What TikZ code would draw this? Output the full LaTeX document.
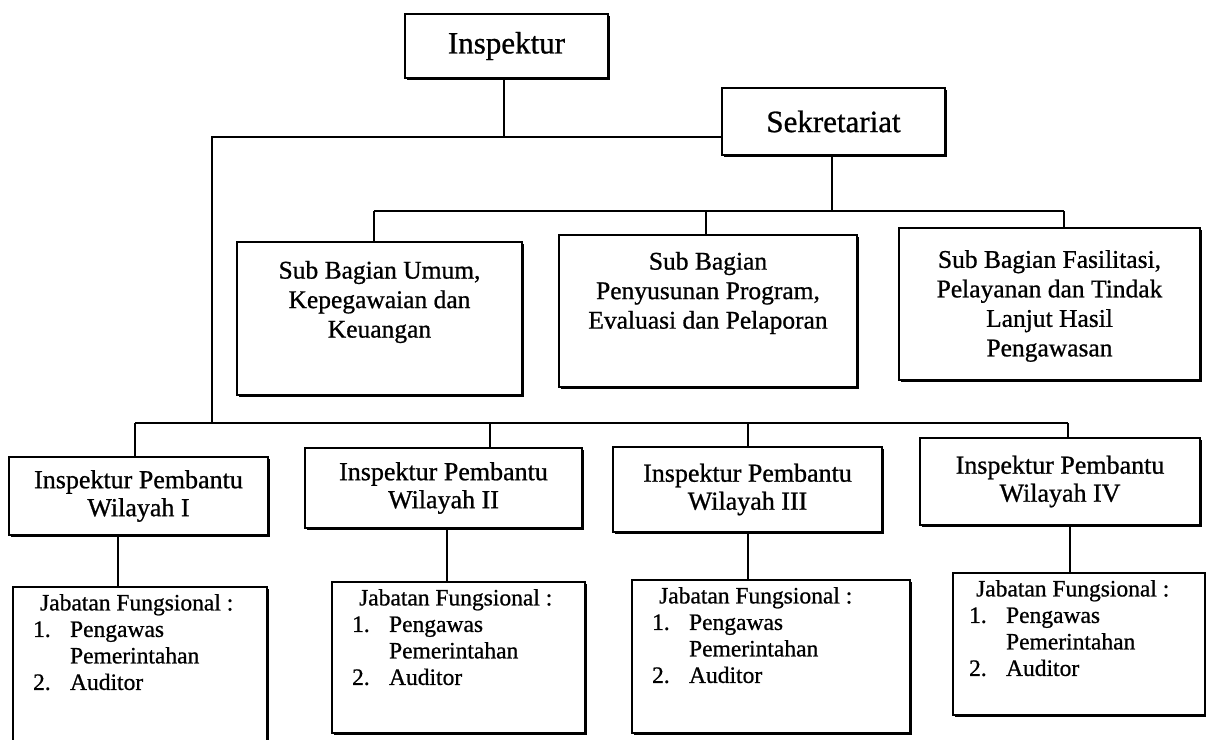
\documentclass[tikz,border=0pt]{standalone}
\usepackage{fontspec}
\setmainfont{Liberation Serif}[FakeBold=0.8]
\usetikzlibrary{shadows}

\newcommand{\jflist}{\hspace*{7pt}Jabatan Fungsional :\\
\makebox[37pt][l]{1.}Pengawas\\
\hspace*{37pt}Pemerintahan\\
\makebox[37pt][l]{2.}Auditor}

\begin{document}
\begin{tikzpicture}[x=1pt,y=-1pt,
  box/.style={draw,fill=white,line width=2.2pt,inner sep=0pt,
    drop shadow={shadow xshift=2.4pt,shadow yshift=-2.4pt,fill=black,opacity=1}},
  conn/.style={line width=2.8pt},
  bigtxt/.style={font=\fontsize{31}{36}\selectfont},
  subtxt/.style={align=center,inner sep=0pt,font=\fontsize{25.5}{29.5}\selectfont},
  iptxt/.style={align=center,font=\fontsize{26}{28}\selectfont},
  jftxt/.style={align=left,inner sep=0pt,anchor=north west,font=\fontsize{23.5}{26.5}\selectfont}]

\useasboundingbox (0,0) rectangle (1206,739);
\fill[white] (0,0) rectangle (1206,739);
\clip (0,0) rectangle (1206,739);

% top level
\node[box,bigtxt,minimum width=203pt,minimum height=64pt] (ins) at (506.5,46) {Inspektur};
\node[box,bigtxt,minimum width=223pt,minimum height=67pt] (sek) at (833.5,121.5) {Sekretariat};

% sub bagian
\node[box,minimum width=285pt,minimum height=153pt] (sub1) at (379.5,318.5) {};
\node[box,minimum width=298pt,minimum height=152pt] (sub2) at (708,311) {};
\node[box,minimum width=301pt,minimum height=152pt] (sub3) at (1049.5,304) {};
\node[subtxt] (sub1t) at (379.5,302) {Sub Bagian Umum,\\ Kepegawaian dan\\ Keuangan};
\node[subtxt] (sub2t) at (708,293) {Sub Bagian\\ Penyusunan Program,\\ Evaluasi dan Pelaporan};
\node[subtxt] (sub3t) at (1049.5,306) {Sub Bagian Fasilitasi,\\ Pelayanan dan Tindak\\ Lanjut Hasil\\ Pengawasan};

% inspektur pembantu
\node[box,iptxt,minimum width=259pt,minimum height=78pt] (ip1) at (138.5,496) {Inspektur Pembantu\\ Wilayah I};
\node[box,iptxt,minimum width=277pt,minimum height=80pt] (ip2) at (443.5,488) {Inspektur Pembantu\\ Wilayah II};
\node[box,iptxt,minimum width=269pt,minimum height=85pt] (ip3) at (747.5,489.5) {Inspektur Pembantu\\ Wilayah III};
\node[box,iptxt,minimum width=280pt,minimum height=87pt] (ip4) at (1060,481.5) {Inspektur Pembantu\\ Wilayah IV};

% jabatan fungsional
\node[box,minimum width=254pt,minimum height=173pt] (jf1) at (140,673.5) {};
\node[box,minimum width=253pt,minimum height=151pt] (jf2) at (458.5,657.5) {};
\node[box,minimum width=278pt,minimum height=153pt] (jf3) at (771,656.5) {};
\node[box,minimum width=252pt,minimum height=142pt] (jf4) at (1079,644) {};
\node[jftxt] (jf1t) at ([xshift=21pt,yshift=-8pt]jf1.north west) {\jflist};
\node[jftxt] (jf2t) at ([xshift=21pt,yshift=-8pt]jf2.north west) {\jflist};
\node[jftxt] (jf3t) at ([xshift=21pt,yshift=-8pt]jf3.north west) {\jflist};
\node[jftxt] (jf4t) at ([xshift=17pt,yshift=-8pt]jf4.north west) {\jflist};

% junctions
\coordinate (c0) at (504,137);
\coordinate (cL) at (212,137);
\coordinate (cLb) at (212,423);
\coordinate (s0) at (832,211);
\coordinate (u1) at (374,211);
\coordinate (u2) at (706,211);
\coordinate (u3) at (1064,211);
\coordinate (l1) at (135,423);
\coordinate (l2) at (490,423);
\coordinate (l3) at (748,423);
\coordinate (l4) at (1068,423);
\coordinate (d1) at (118,560);
\coordinate (d2) at (447,560);
\coordinate (d3) at (748,560);
\coordinate (d4) at (1070,560);

% lines
\draw[conn] (ins.south -| c0) -- (c0) -- (cL) -- (cLb);
\draw[conn] (c0) -- (c0 -| sek.west);
\draw[conn] (sek.south -| s0) -- (s0);
\draw[conn] (u1) -- (u3);
\draw[conn] (u1) -- (u1 |- sub1.north);
\draw[conn] (u2) -- (u2 |- sub2.north);
\draw[conn] (u3) -- (u3 |- sub3.north);
\draw[conn] (l1) -- (l4);
\draw[conn] (l1) -- (l1 |- ip1.north);
\draw[conn] (l2) -- (l2 |- ip2.north);
\draw[conn] (l3) -- (l3 |- ip3.north);
\draw[conn] (l4) -- (l4 |- ip4.north);
\draw[conn] (ip1.south -| d1) -- (jf1.north -| d1);
\draw[conn] (ip2.south -| d2) -- (jf2.north -| d2);
\draw[conn] (ip3.south -| d3) -- (jf3.north -| d3);
\draw[conn] (ip4.south -| d4) -- (jf4.north -| d4);

\end{tikzpicture}
\end{document}
